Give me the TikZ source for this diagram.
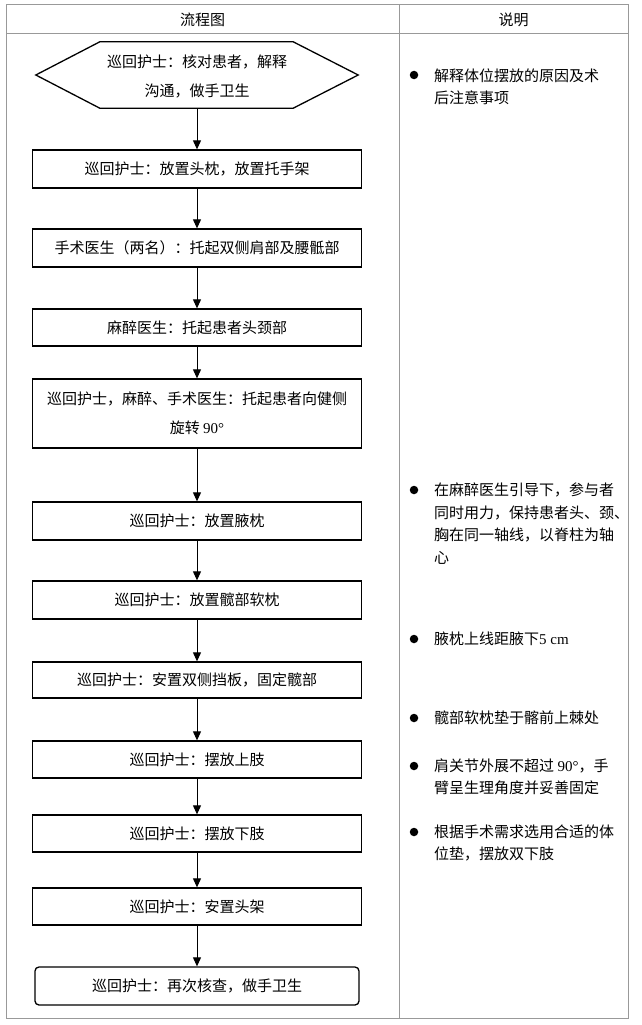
\documentclass[tikz,border=0pt]{standalone}
\usepackage{fontspec}
\setmainfont{Noto Sans CJK SC}
\newfontfamily\lat{Liberation Serif}
\usetikzlibrary{arrows.meta}
\begin{document}
\begin{tikzpicture}[x=1pt,y=-1pt,
  grid/.style={draw=black!40, line width=1pt},
  stepbox/.style={draw=black, line width=1.3pt, minimum width=328.5pt, minimum height=38pt, inner sep=0pt, align=center, font=\fontsize{15}{29}\selectfont, text=black},
  endbox/.style={stepbox, rounded corners=4pt, minimum width=324pt},
  flow/.style={-{Triangle[width=8pt,length=9pt]}, line width=1pt},
  note/.style={anchor=base west, inner sep=0pt, align=left, font=\fontsize{15}{22.5}\selectfont, text=black},
  hdr/.style={font=\fontsize{15}{18}\selectfont, inner sep=0pt, text=black},
  dot/.style={circle, fill=black, inner sep=0pt, minimum size=8.5pt}]

\useasboundingbox (0,0) rectangle (642,1025);
\fill[white] (0,0) rectangle (642,1025);

% table frame
\draw[grid] (6,5) rectangle (628,1018);
\draw[grid] (6,34) -- (628,34);
\draw[grid] (399,5) -- (399,1018);
\node[hdr] (h1) at (202.5,20) {流程图};
\node[hdr] (h2) at (513.5,20) {说明};

% start hexagon (outline 1.5pt above the text centre)
\node[minimum width=322pt, minimum height=66pt, inner sep=0pt, align=center,
      font=\fontsize{15}{29}\selectfont, text=black] (hex) at (197,76.5)
      {巡回护士：核对患者，解释\\沟通，做手卫生};
\draw[line width=1.3pt] ([yshift=1.5]hex.west) -- ([xshift=64,yshift=1.5]hex.north west) -- ([xshift=-65,yshift=1.5]hex.north east)
  -- ([yshift=1.5]hex.east) -- ([xshift=-65,yshift=1.5]hex.south east) -- ([xshift=64,yshift=1.5]hex.south west) -- cycle;

% steps
\node[stepbox] (b1) at (197,169) {巡回护士：放置头枕，放置托手架};
\node[stepbox] (b2) at (197,248) {手术医生（两名）：托起双侧肩部及腰骶部};
\node[stepbox, minimum height=37pt] (b3) at (197,327.5) {麻醉医生：托起患者头颈部};
\node[stepbox, minimum height=69pt] (b4) at (197,413.5) {巡回护士，麻醉、手术医生：托起患者向健侧\\旋转 {\lat 90°}};
\node[stepbox] (b5) at (197,521) {巡回护士：放置腋枕};
\node[stepbox] (b6) at (197,600) {巡回护士：放置髋部软枕};
\node[stepbox, minimum height=36pt] (b7) at (197,680) {巡回护士：安置双侧挡板，固定髋部};
\node[stepbox, minimum height=37pt] (b8) at (197,759.5) {巡回护士：摆放上肢};
\node[stepbox, minimum height=37pt] (b9) at (197,833.5) {巡回护士：摆放下肢};
\node[stepbox, minimum height=37pt] (b10) at (197,906.5) {巡回护士：安置头架};
\node[endbox] (b11) at (197,986) {巡回护士：再次核查，做手卫生};

% connectors
\draw[flow] ([yshift=1.5]hex.south) -- (b1.north);
\draw[flow] (b1.south) -- (b2.north);
\draw[flow] (b2.south) -- (b3.north);
\draw[flow] (b3.south) -- (b4.north);
\draw[flow] (b4.south) -- (b5.north);
\draw[flow] (b5.south) -- (b6.north);
\draw[flow] (b6.south) -- (b7.north);
\draw[flow] (b7.south) -- (b8.north);
\draw[flow] (b8.south) -- (b9.north);
\draw[flow] (b9.south) -- (b10.north);
\draw[flow] (b10.south) -- (b11.north);

% notes (anchor = baseline of the last line)
\node[dot] (d1) at (414,75) {};
\node[note] (n1) at (434,103.5) {解释体位摆放的原因及术\\后注意事项};
\node[dot] (d2) at (414,490) {};
\node[note] (n2) at (434,563) {在麻醉医生引导下，参与者\\同时用力，保持患者头、颈、\\胸在同一轴线，以脊柱为轴\\心};
\node[dot] (d3) at (414,639) {};
\node[note] (n3) at (434,644.5) {腋枕上线距腋下{\lat 5 cm}};
\node[dot] (d4) at (414,718) {};
\node[note] (n4) at (434,723.5) {髋部软枕垫于髂前上棘处};
\node[dot] (d5) at (414,766) {};
\node[note] (n5) at (434,793.5) {肩关节外展不超过 {\lat 90°}，手\\臂呈生理角度并妥善固定};
\node[dot] (d6) at (414,832) {};
\node[note] (n6) at (434,859.5) {根据手术需求选用合适的体\\位垫，摆放双下肢};
\end{tikzpicture}
\end{document}
